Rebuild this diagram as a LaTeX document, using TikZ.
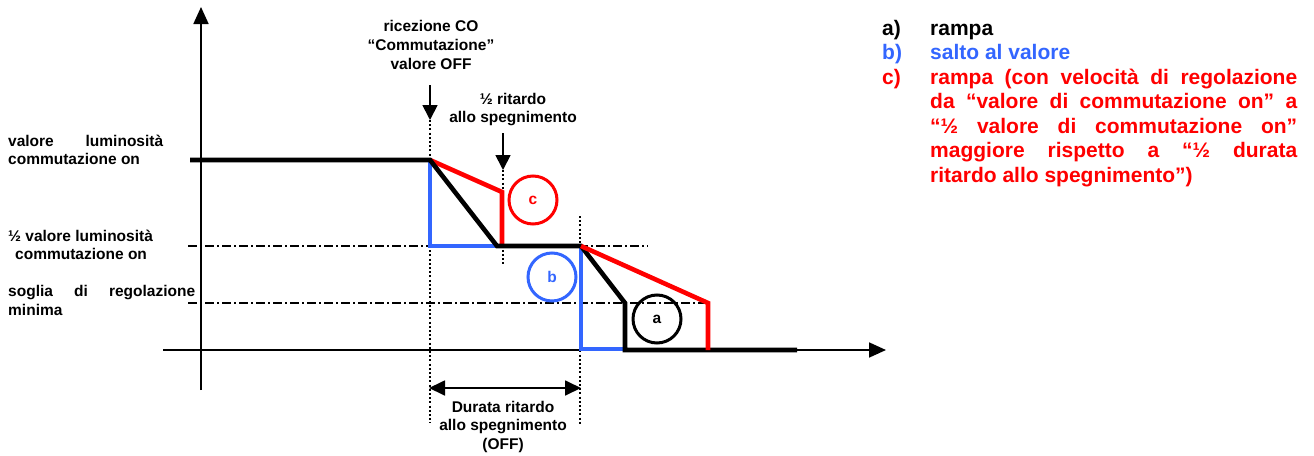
\documentclass[tikz,border=0pt]{standalone}
\usepackage{fontspec}
\setmainfont{Liberation Sans}
\usetikzlibrary{arrows.meta}
\definecolor{myred}{RGB}{255,0,0}
\definecolor{myblue}{RGB}{51,102,255}
\begin{document}
\begin{tikzpicture}[x=1pt,y=-1pt,
  lbl/.style={font=\fontsize{15.5}{19}\selectfont\bfseries, inner sep=0pt, anchor=base},
  leg/.style={font=\fontsize{21}{24.5}\selectfont\bfseries, inner sep=0pt, anchor=base west},
  curve/.style={line width=4.6pt},
  axisline/.style={line width=1.8pt, -{Triangle[length=17pt,width=15pt]}},
  vdot/.style={line width=2pt, dash pattern=on 2pt off 2.2pt},
  dd/.style={line width=1.3pt, dash pattern=on 9pt off 3pt on 2pt off 3pt},
  marker/.style={line width=1.8pt, -{Triangle[length=15pt,width=15pt]}},
  ring/.style={line width=3pt, circle, minimum size=48pt, inner sep=0pt, font=\fontsize{15.5}{19}\selectfont\bfseries}]
\useasboundingbox (0,0) rectangle (1314,455);

% coordinates
\coordinate (yb) at (201,390);
\coordinate (yt) at (201,7);
\coordinate (xl) at (163,350);
\coordinate (xr) at (886,350);

% axes
\draw[axisline] (yb) -- (yt);
\draw[axisline] (xl) -- (xr);

% dash-dot levels
\draw[dd] (188,246) -- (648,246);
\draw[dd] (188,303) -- (708,303);

% dotted verticals
\coordinate (d1t) at (430,120);
\coordinate (d1b) at (430,423);
\coordinate (d2t) at (503,170);
\coordinate (d2b) at (503,266);
\coordinate (d3t) at (580,216);
\coordinate (d3b) at (580,425);
\draw[vdot] (d1t) -- (d1b);
\draw[vdot] (d2t) -- (d2b);
\draw[vdot] (d3t) -- (d3b);

% marker arrows
\coordinate (m1s) at (430,85);
\coordinate (m2s) at (503,133);
\draw[marker] (m1s) -- (d1t);
\draw[marker] (m2s) -- (d2t);

% duration arrow
\coordinate (da) at (429,388);
\coordinate (db) at (581,388);
\draw[line width=1.8pt, {Triangle[length=16pt,width=15pt]}-{Triangle[length=16pt,width=15pt]}] (da) -- (db);

% curves
\draw[curve, myblue] (430,160) -- (430,246) -- (497,246);
\draw[curve, myblue] (581,246) -- (581,349) -- (625,349);
\draw[curve, myred] (430,160) -- (502,192) -- (502,246);
\draw[curve] (190,160) -- (430,160) -- (497,246) -- (581,246) -- (625,303) -- (625,350) -- (797,350);
\draw[curve, myred] (581,246) -- (708,303) -- (708,350);

% circles
\node[ring, draw=myred, text=myred] (cc) at (533,200) {c};
\node[ring, draw=myblue, text=myblue] (cb) at (552,277) {b};
\node[ring, draw=black] (ca) at (657,319) {a};

% top labels
\node[lbl] (r1) at (431,31) {ricezione CO};
\node[lbl] (r2) at (431,50.5) {“Commutazione”};
\node[lbl] (r3) at (431,69) {valore OFF};
\node[lbl] (h1) at (513,104) {½ ritardo};
\node[lbl] (h2) at (513,122) {allo spegnimento};

% bottom labels
\node[lbl] (b1) at (503,412) {Durata ritardo};
\node[lbl] (b2) at (503,430) {allo spegnimento};
\node[lbl] (b3) at (503,449) {(OFF)};

% left labels
\node[lbl, anchor=base west] (l1) at (8,146.5) {\hbox to 155pt{valore\hfill luminosità}};
\node[lbl, anchor=base west] (l2) at (8,164) {commutazione on};
\node[lbl, anchor=base west] (l3) at (8,241.5) {½ valore luminosità};
\node[lbl, anchor=base west] (l4) at (15,259) {commutazione on};
\node[lbl, anchor=base west] (l5) at (8,296) {\hbox to 187pt{soglia\hfill di\hfill regolazione}};
\node[lbl, anchor=base west] (l6) at (8,315) {minima};

% legend
\node[leg] (la) at (882,35) {a)};
\node[leg] (lat) at (930,35) {rampa};
\node[leg, text=myblue] (lb) at (882,59.5) {b)};
\node[leg, text=myblue] (lbt) at (930,59.5) {salto al valore};
\node[leg, text=myred] (lc) at (882,84) {c)};
\node[leg, text=myred] (lct) at (930,84) {\parbox[t]{367pt}{\tolerance=10000\hyphenpenalty=10000 rampa (con velocità di regolazione\linebreak da “valore di commutazione on” a\linebreak “½ valore di commutazione on”\linebreak maggiore rispetto a “½ durata\linebreak ritardo allo spegnimento”)}};
\end{tikzpicture}
\end{document}
